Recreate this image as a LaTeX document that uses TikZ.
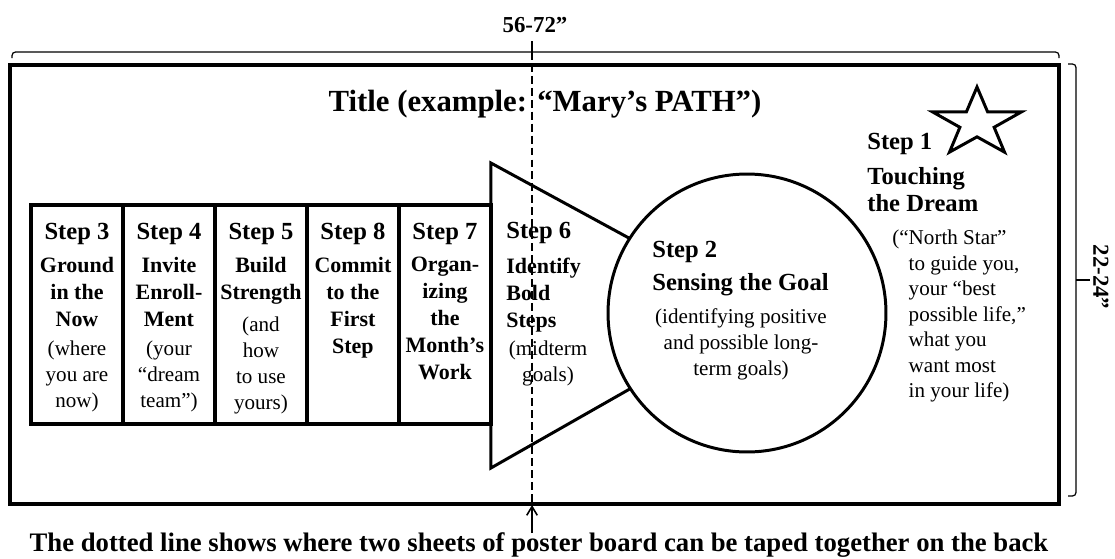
\documentclass[tikz,border=0pt]{standalone}
\usepackage{fontspec}
\setmainfont{Liberation Serif}
\usetikzlibrary{shapes.geometric,arrows.meta,positioning,calc}
\tikzstyle{stepbox} = [draw, line width=1.9pt, minimum width=1.84cm, minimum height=4.38cm, inner sep=0pt, outer sep=0pt]
\tikzstyle{head} = [font=\fontsize{14}{16}\selectfont\bfseries, inner sep=0pt]
\tikzstyle{desc} = [font=\fontsize{12.5}{15.3}\selectfont\bfseries, align=center, anchor=north, inner sep=0pt]
\tikzstyle{note} = [font=\fontsize{12}{14.8}\selectfont, align=center, anchor=north, inner sep=0pt]
\tikzstyle{brace} = [line width=0.7pt, rounded corners=2pt]
\tikzstyle{Arrow} = [-{Straight Barb[length=5pt,width=6pt]}, line width=0.9pt]

\begin{document}
\begin{tikzpicture}[x=0.02cm, y=-0.02cm]
            \useasboundingbox (0,0) rectangle (1115,558);
            %%%%% Poster board %%%%%
            \node (P) [draw, line width=2.3pt, minimum width=20.98cm, minimum height=8.78cm, inner sep=0pt] at (534.5,284.5) {};
            \node (Title) [font=\fontsize{17.5}{20}\selectfont\bfseries, inner sep=0pt] at (545,104) {Title (example: “Mary’s PATH”)};
            %%%%% Boxes %%%%%
            \node (S3) [stepbox] at (77,314.5) {};
            \node (S4) [stepbox, right=0pt of S3] {};
            \node (S5) [stepbox, right=0pt of S4] {};
            \node (S8) [stepbox, right=0pt of S5] {};
            \node (S7) [stepbox, right=0pt of S8] {};
            \node (H3) [head] at ($(S3.north)+(0,29)$) {Step 3};
            \node (D3) [desc] at ($(S3.north)+(0,52)$) {Ground\\in the\\Now};
            \node (N3) [note] at ($(S3.north)+(0,135)$) {(where\\you are\\now)};
            \node (H4) [head] at ($(S4.north)+(0,29)$) {Step 4};
            \node (D4) [desc] at ($(S4.north)+(0,52)$) {Invite\\Enroll-\\Ment};
            \node (N4) [note] at ($(S4.north)+(0,135)$) {(your\\“dream\\team”)};
            \node (H5) [head] at ($(S5.north)+(0,29)$) {Step 5};
            \node (D5) [desc] at ($(S5.north)+(0,52)$) {Build\\Strength};
            \node (N5) [note] at ($(S5.north)+(0,111)$) {(and\\how\\to use\\yours)};
            \node (H8) [head] at ($(S8.north)+(0,29)$) {Step 8};
            \node (D8) [desc] at ($(S8.north)+(0,52)$) {Commit\\to the\\First\\Step};
            \node (H7) [head] at ($(S7.north)+(0,29)$) {Step 7};
            \node (D7) [desc] at ($(S7.north)+(0,52)$) {Organ-\\izing\\the\\Month’s\\Work};
            %%%%% Triangle and circle %%%%%
            \coordinate (T1) at ($(S7.east)+(0,-151.5)$);
            \coordinate (T2) at ($(S7.east)+(0,153.5)$);
            \coordinate (T3) at (765,312);
            \draw [line width=1.7pt, line join=miter] (T1) -- (T3) -- (T2) -- cycle;
            \node (G) [circle, draw, fill=white, line width=1.7pt, minimum size=5.56cm, inner sep=0pt] at (747,313) {};
            \node (H6) [head, anchor=west] at (506,233) {Step 6};
            \node (D6) [desc, align=left, anchor=north west] at (506,258) {Identify\\Bold\\Steps};
            \node (N6) [note] at (548,341) {(midterm\\goals)};
            \node (H2) [head, anchor=west] at (652,252) {Step 2};
            \node (D2) [head, anchor=west] at (652,285) {Sensing the Goal};
            \node (N2) [note] at (741,308) {(identifying positive\\and possible long-\\term goals)};
            %%%%% Dream %%%%%
            \begin{scope}[shift={(977,123)}, xscale=1.3]
              \node (Star) [star, star points=5, star point ratio=2.6, draw, line width=1.7pt, line join=miter, minimum size=1.44cm, inner sep=0pt, transform shape] at (0,0) {};
            \end{scope}
            \node (H1) [head, anchor=west] at (867,144) {Step 1};
            \node (D1) [head, align=left, anchor=north west, font=\fontsize{14}{15.4}\selectfont\bfseries] at (867,167) {Touching\\the Dream};
            \node (N1) [note, align=left, anchor=north west, font=\fontsize{12}{14.5}\selectfont] at (892,230) {(“North Star”\\\phantom{(“}to guide you,\\\phantom{(“}your “best\\\phantom{(“}possible life,”\\\phantom{(“}what you\\\phantom{(“}want most\\\phantom{(“}in your life)};
            %%%%% Sizes %%%%%
            \draw [brace] (12,58) -- (12,52) -- (1059,52) -- (1059,58);
            \draw [brace] (532,52) -- (532,41);
            \node (W) [font=\fontsize{13}{15}\selectfont\bfseries, inner sep=0pt] at (535,25) {56-72”};
            \draw [brace] (1068,64) -- (1076,64) -- (1076,496) -- (1068,496);
            \draw [brace] (1076,280) -- (1090,280);
            \node (Hgt) [font=\fontsize{13}{15}\selectfont\bfseries, inner sep=0pt, rotate=-90] at (1101,277) {22-24”};
            %%%%% Seam %%%%%
            \coordinate (Top) at (532,52);
            \coordinate (Bot) at (532,505);
            \coordinate (Tail) at (532,533);
            \draw [line width=0.7pt, dash pattern=on 4.5pt off 2.3pt] (Top) -- (Bot);
            \draw [Arrow] (Tail) -- (Bot);
            \node (Seam) [font=\fontsize{15.2}{17}\selectfont\bfseries, anchor=base, inner sep=0pt] at (539,551) {The dotted line shows where two sheets of poster board can be taped together on the back};
\end{tikzpicture}
\end{document}
